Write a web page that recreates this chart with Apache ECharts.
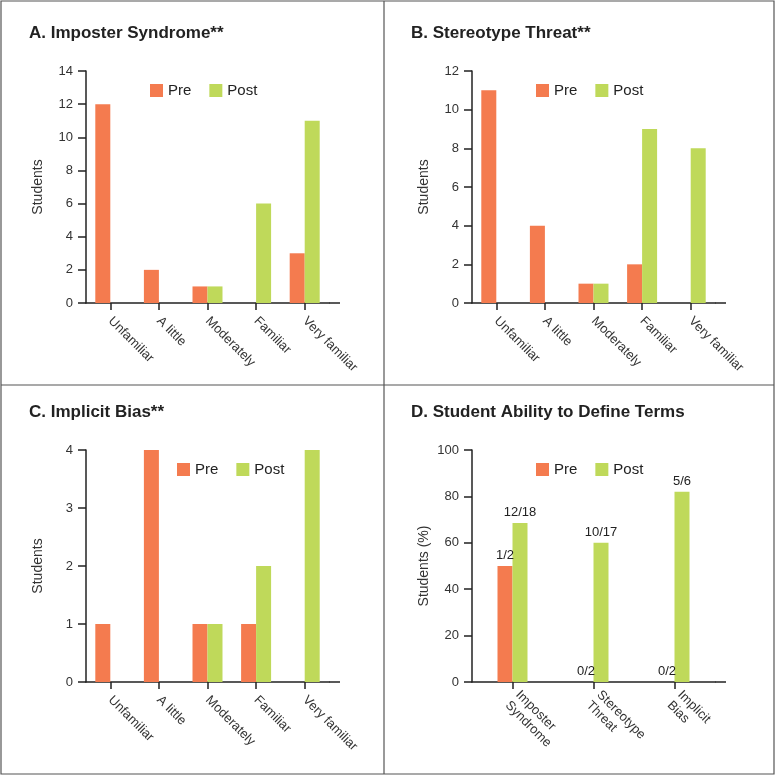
<!DOCTYPE html>
<html>
<head>
<meta charset="utf-8">
<script src="https://cdn.jsdelivr.net/npm/echarts@6/dist/echarts.min.js"></script>
<style>
html,body{margin:0;padding:0;background:#fff;}
#chart{width:777px;height:777px;}
</style>
</head>
<body>
<div id="chart"></div>
<script>
// ---- data ----
const familiarity = ['Unfamiliar', 'A little', 'Moderately', 'Familiar', 'Very familiar'];
const termCategories = ['Imposter\nSyndrome', 'Stereotype\nThreat', 'Implicit\nBias'];

const imposterPre = [12, 2, 1, 0, 3];
const imposterPost = [0, 0, 1, 6, 11];
const stereotypePre = [11, 4, 1, 2, 0];
const stereotypePost = [0, 0, 1, 9, 8];
const biasPre = [1, 4, 1, 1, 0];
const biasPost = [0, 0, 1, 2, 4];
const definePre = [50, 0, 0];
const definePost = [68.5, 60, 82];
const definePreLabels = ['1/2', '0/2', '0/2'];
const definePostLabels = ['12/18', '10/17', '5/6'];

const titles = ['A. Imposter Syndrome**', 'B. Stereotype Threat**', 'C. Implicit Bias**', 'D. Student Ability to Define Terms'];
const yNames = ['Students', 'Students', 'Students', 'Students (%)'];
const yMax = [14, 12, 4, 100];
const yInterval = [2, 2, 1, 20];

// ---- styling ----
const FONT = '"Liberation Sans", Arial, Helvetica, sans-serif';
const PRE = '#F47B4F';
const POST = '#BFD95A';
const AX = '#222';

const grids = [
  {left: 86, top: 71, width: 243, height: 232},
  {left: 472, top: 71, width: 243, height: 232},
  {left: 86, top: 450, width: 243, height: 232},
  {left: 472, top: 450, width: 243, height: 232}
];
const titlePos = [[29, 25], [411, 25], [29, 404], [411, 404]];
const legendPos = [[150, 83], [536, 83], [177, 462], [536, 462]];

const chart = echarts.init(document.getElementById('chart'), null, {renderer: 'canvas'});

const xAxes = [0,1,2,3].map(i => ({
  type: 'category',
  gridIndex: i,
  data: i === 3 ? termCategories : familiarity,
  axisLine: {lineStyle: {color: AX, width: 1.5}},
  axisTick: {show: true, alignWithLabel: true, length: 7, lineStyle: {color: AX, width: 1.5}},
  axisLabel: {rotate: -45, margin: 16, fontSize: 13, color: '#333', fontFamily: FONT, interval: 0, lineHeight: 15},
  splitLine: {show: false}
}));

const yAxes = [0,1,2,3].map(i => ({
  type: 'value',
  gridIndex: i,
  min: 0,
  max: yMax[i],
  interval: yInterval[i],
  name: yNames[i],
  nameLocation: 'middle',
  nameGap: 41,
  nameTextStyle: {fontSize: 14, color: '#333', fontFamily: FONT},
  axisLine: {show: true, lineStyle: {color: AX, width: 1.5}},
  axisTick: {show: true, length: 8, lineStyle: {color: AX, width: 1.5}},
  axisLabel: {margin: 13, fontSize: 13, color: '#333', fontFamily: FONT},
  splitLine: {show: false}
}));

const pairs = [
  [imposterPre, imposterPost],
  [stereotypePre, stereotypePost],
  [biasPre, biasPost],
  [definePre, definePost]
];

const series = [];
pairs.forEach((p, i) => {
  const preS = {
    name: 'Pre', type: 'bar', xAxisIndex: i, yAxisIndex: i,
    data: p[0], barWidth: 15, barGap: '0%',
    itemStyle: {color: PRE}
  };
  const postS = {
    name: 'Post', type: 'bar', xAxisIndex: i, yAxisIndex: i,
    data: p[1], barWidth: 15, barGap: '0%',
    itemStyle: {color: POST}
  };
  if (i === 3) {
    preS.label = {show: true, position: 'top', distance: 4, fontSize: 13, color: '#222', fontFamily: FONT,
      formatter: d => definePreLabels[d.dataIndex]};
    postS.label = {show: true, position: 'top', distance: 4, fontSize: 13, color: '#222', fontFamily: FONT,
      formatter: d => definePostLabels[d.dataIndex]};
  }
  series.push(preS, postS);
});

// axis-line extension past the last category (decoration, as in the original)
const axisExt = grids.map(g => ({
  type: 'line', silent: true,
  shape: {x1: g.left + g.width, y1: g.top + g.height, x2: g.left + g.width + 11, y2: g.top + g.height},
  style: {stroke: AX, lineWidth: 1.5}
}));

const option = {
  animation: false,
  backgroundColor: '#fff',
  title: titles.map((t, i) => ({
    text: t, left: titlePos[i][0], top: titlePos[i][1], padding: 0,
    textStyle: {fontSize: 17, fontWeight: 'bold', color: '#222', fontFamily: FONT}
  })),
  legend: [0,1,2,3].map(i => ({
    data: ['Pre', 'Post'], left: legendPos[i][0], top: legendPos[i][1], padding: 0,
    orient: 'horizontal', icon: 'rect', itemWidth: 13, itemHeight: 13, itemGap: 18,
    textStyle: {fontSize: 15, color: '#222', fontFamily: FONT}, selectedMode: false
  })),
  grid: grids.map(g => Object.assign({containLabel: false}, g)),
  xAxis: xAxes,
  yAxis: yAxes,
  series: series,
  graphic: [
    {type: 'rect', shape: {x: 1, y: 1, width: 773, height: 773}, style: {fill: null, stroke: '#555', lineWidth: 1.2}, silent: true},
    {type: 'line', shape: {x1: 384, y1: 1, x2: 384, y2: 774}, style: {stroke: '#555', lineWidth: 1.2}, silent: true},
    {type: 'line', shape: {x1: 1, y1: 385, x2: 774, y2: 385}, style: {stroke: '#555', lineWidth: 1.2}, silent: true}
  ].concat(axisExt)
};
chart.setOption(option);
</script>
</body>
</html>
